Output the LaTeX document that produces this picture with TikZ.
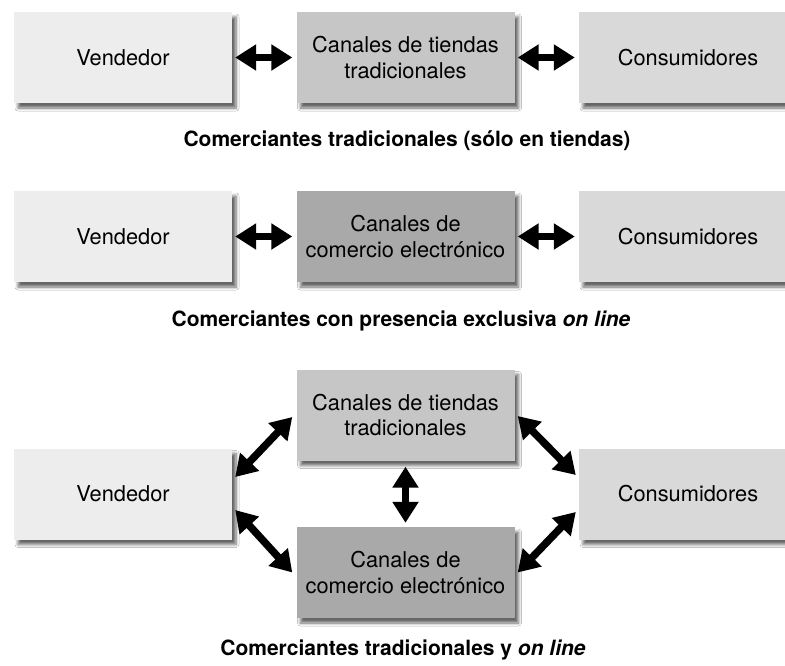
\documentclass[tikz,border=0pt]{standalone}
\usepackage{fontspec}
\setmainfont{TeX Gyre Heros}
\usetikzlibrary{arrows.meta,calc,shadows.blur}
\definecolor{cvend}{HTML}{EDEDED}
\definecolor{ctien}{HTML}{C6C6C6}
\definecolor{ccons}{HTML}{D9D9D9}
\definecolor{ccome}{HTML}{A9A9A9}
\tikzset{
  boxbase/.style={minimum width=218pt, minimum height=91pt, inner sep=0pt,
    align=center, font=\fontsize{21.8}{25.5}\selectfont,
    blur shadow={shadow xshift=4pt, shadow yshift=-5pt, shadow blur steps=6, shadow opacity=60, shadow blur radius=3pt}},
  vendbox/.style={boxbase, fill=cvend},
  tienbox/.style={boxbase, fill=ctien},
  consbox/.style={boxbase, fill=ccons},
  comebox/.style={boxbase, fill=ccome},
  caption/.style={font=\fontsize{21}{25}\selectfont\bfseries},
  biarrow/.style={line width=7.5pt, {Triangle[width=25pt,length=21pt]}-{Triangle[width=25pt,length=21pt]}},
}
\begin{document}
\begin{tikzpicture}[x=1pt,y=-1pt]
\clip (0,0) rectangle (785,665);
\fill[white] (0,0) rectangle (785,665);
% Row 1
\node[vendbox] (v1) at (123,57.5) {Vendedor};
\node[tienbox] (t1) at (405.5,57.5) {Canales de tiendas\\tradicionales};
\node[consbox] (s1) at (688,57.5) {Consumidores};
\draw[biarrow] ($(v1.east)+(3,0)$) -- ($(t1.west)+(-4,0)$);
\draw[biarrow] ($(t1.east)+(3,0)$) -- ($(s1.west)+(-4,0)$);
\node[caption] (cap1) at (407,141) {Comerciantes tradicionales (sólo en tiendas)};
% Row 2
\node[vendbox] (v2) at (123,236.5) {Vendedor};
\node[comebox] (c2) at (405.5,236.5) {Canales de\\comercio electrónico};
\node[consbox] (s2) at (688,236.5) {Consumidores};
\draw[biarrow] ($(v2.east)+(3,0)$) -- ($(c2.west)+(-4,0)$);
\draw[biarrow] ($(c2.east)+(3,0)$) -- ($(s2.west)+(-4,0)$);
\node[caption] (cap2) at (401,321) {Comerciantes con presencia exclusiva \textit{on line}};
% Row 3
\node[tienbox] (t3) at (405.5,415) {Canales de tiendas\\tradicionales};
\node[vendbox] (v3) at (123,494) {Vendedor};
\node[consbox] (s3) at (688,494) {Consumidores};
\node[comebox] (c3) at (405.5,572.5) {Canales de\\comercio electrónico};
\draw[biarrow] ($(v3.east)+(3,-17)$) -- ($(t3.west)+(-4,2)$);
\draw[biarrow] ($(v3.east)+(3,16)$) -- ($(c3.west)+(-4,0)$);
\draw[biarrow] ($(t3.south)+(0,6)$) -- ($(c3.north)+(0,-4)$);
\draw[biarrow] ($(t3.east)+(3,1)$) -- ($(s3.west)+(-3,-19)$);
\draw[biarrow] ($(s3.west)+(-3,18)$) -- ($(c3.east)+(3,0)$);
\node[caption] (cap3) at (403,650) {Comerciantes tradicionales y \textit{on line}};
\end{tikzpicture}
\end{document}
